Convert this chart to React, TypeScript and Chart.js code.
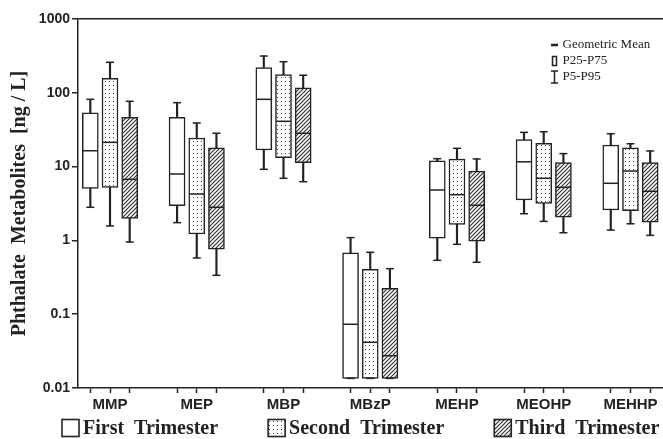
import React, { useEffect, useRef } from 'react';
import { Chart, registerables } from 'chart.js';

Chart.register(...registerables);

const categories = ['MMP', 'MEP', 'MBP', 'MBzP', 'MEHP', 'MEOHP', 'MEHHP'];
const seriesLabels = ['First  Trimester', 'Second  Trimester', 'Third  Trimester'];

// rows: first, second, third trimester; columns follow categories
const p5 = [
  [2.81, 1.74, 9.19, 0.0135, 0.537, 2.30, 1.38],
  [1.57, 0.578, 6.94, 0.0135, 0.885, 1.81, 1.68],
  [0.95, 0.336, 6.24, 0.0135, 0.505, 1.27, 1.17],
];
const p25 = [
  [5.08, 2.95, 16.8, 0.0135, 1.07, 3.53, 2.58],
  [5.24, 1.22, 13.2, 0.0135, 1.65, 3.18, 2.53],
  [1.99, 0.758, 11.3, 0.0135, 0.98, 2.07, 1.76],
];
const geoMean = [
  [16.4, 7.94, 81.6, 0.073, 4.82, 11.6, 5.94],
  [21.3, 4.25, 41.1, 0.0416, 4.16, 6.94, 8.71],
  [6.73, 2.81, 28.3, 0.0274, 2.99, 5.24, 4.63],
];
const p75 = [
  [53.7, 46.6, 219, 0.681, 12.0, 23.2, 19.6],
  [157, 24.4, 176, 0.406, 12.6, 20.7, 18.0],
  [46.6, 18.0, 117, 0.224, 8.71, 11.3, 11.3],
];
const p95 = [
  [81.6, 73.5, 315, 1.09, 12.8, 29.1, 27.9],
  [259, 39.0, 264, 0.690, 17.7, 29.7, 20.4],
  [76.7, 28.3, 173, 0.414, 12.7, 15.0, 16.3],
];

const yTickValues = [0.01, 0.1, 1, 10, 100, 1000];
const yTickLabels = ['0.01', '0.1', '1', '10', '100', '1000'];
const yAxisTitle = 'Phthalate  Metabolites  [ng / L]';
const innerLegendLabels = ['Geometric Mean', 'P25-P75', 'P5-P95'];

const INK = '#222';
const SERIF = '"Liberation Serif", "Times New Roman", serif';
const SANS = '"Liberation Sans", Arial, sans-serif';
const OFFSETS = [-0.227, 0, 0.227];

function makeDots(): CanvasPattern | string {
  const c = document.createElement('canvas');
  c.width = 4; c.height = 4;
  const g = c.getContext('2d');
  if (!g) return '#fff';
  g.fillStyle = '#fff'; g.fillRect(0, 0, 4, 4);
  g.fillStyle = '#444'; g.fillRect(1, 1, 1, 1);
  return g.createPattern(c, 'repeat') || '#fff';
}

function makeHatch(): CanvasPattern | string {
  const c = document.createElement('canvas');
  c.width = 4; c.height = 4;
  const g = c.getContext('2d');
  if (!g) return '#888';
  g.fillStyle = '#fff'; g.fillRect(0, 0, 4, 4);
  g.strokeStyle = '#333'; g.lineWidth = 1.2;
  g.beginPath();
  g.moveTo(0, 4); g.lineTo(4, 0);
  g.moveTo(-1, 1); g.lineTo(1, -1);
  g.moveTo(3, 5); g.lineTo(5, 3);
  g.stroke();
  return g.createPattern(c, 'repeat') || '#888';
}

const legendPlugin = {
  id: 'customLegends',
  afterDraw(chart: any) {
    const ctx = chart.ctx as CanvasRenderingContext2D;
    const area = chart.chartArea;
    ctx.save();
    // inner legend (top right)
    ctx.fillStyle = INK; ctx.strokeStyle = INK; ctx.lineWidth = 1.5;
    const lx = area.right - 112;
    const rows = [area.top + 26, area.top + 42, area.top + 58];
    ctx.fillRect(lx, rows[0] - 1.25, 7, 2.5);
    ctx.strokeRect(lx + 1.5, rows[1] - 4.5, 4, 9);
    ctx.beginPath();
    ctx.moveTo(lx + 3.5, rows[2] - 6); ctx.lineTo(lx + 3.5, rows[2] + 6);
    ctx.moveTo(lx, rows[2] - 6); ctx.lineTo(lx + 7, rows[2] - 6);
    ctx.moveTo(lx, rows[2] + 6); ctx.lineTo(lx + 7, rows[2] + 6);
    ctx.stroke();
    ctx.font = `13px ${SERIF}`;
    ctx.textBaseline = 'middle';
    ctx.textAlign = 'left';
    innerLegendLabels.forEach((t, k) => ctx.fillText(t, lx + 11.5, rows[k]));

    // bottom legend
    ctx.font = `bold 20px ${SERIF}`;
    const boxes = chart.data.datasets.filter((d: any) => d.isBox);
    const size = 17;
    const yc = 428;
    let x = 62;
    boxes.forEach((ds: any) => {
      ctx.fillStyle = ds.backgroundColor;
      ctx.fillRect(x, yc - size / 2, size, size);
      ctx.lineWidth = 1.6; ctx.strokeStyle = INK;
      ctx.strokeRect(x, yc - size / 2, size, size);
      ctx.fillStyle = INK;
      ctx.fillText(ds.label, x + size + 4, yc + 1);
      x += size + 4 + ctx.measureText(ds.label).width + 50;
    });
    ctx.restore();
  },
};

export default function App() {
  const ref = useRef<HTMLCanvasElement>(null);

  useEffect(() => {
    if (!ref.current) return;
    const fills = ['#fff', makeDots(), makeHatch()];
    const datasets: any[] = [];
    for (let s = 0; s < 3; s++) {
      const xs = categories.map((_, i) => i + OFFSETS[s]);
      datasets.push({
        type: 'bar', label: seriesLabels[s], isBox: true,
        data: xs.map((x, i) => ({ x, y: [p25[s][i], p75[s][i]] })),
        backgroundColor: fills[s], borderColor: INK, borderWidth: 1.5, borderSkipped: false,
        grouped: false, barPercentage: 1, categoryPercentage: 1, maxBarThickness: 16, order: 1,
      });
      datasets.push({
        type: 'bar', label: 'whisker',
        data: xs.map((x, i) => ({ x, y: [p5[s][i], p95[s][i]] })),
        backgroundColor: INK, borderWidth: 0,
        grouped: false, barPercentage: 1, categoryPercentage: 1, maxBarThickness: 1.5, order: 2,
      });
      datasets.push({
        type: 'scatter', label: 'mean',
        data: xs.map((x, i) => ({ x, y: geoMean[s][i] })),
        pointStyle: 'line', radius: 7.5, borderColor: INK, borderWidth: 1.5, order: 0,
      });
      datasets.push({
        type: 'scatter', label: 'caps',
        data: xs.flatMap((x, i) => [{ x, y: p5[s][i] }, { x, y: p95[s][i] }]),
        pointStyle: 'line', radius: 4, borderColor: INK, borderWidth: 1.5, order: 0,
      });
    }

    const chart = new Chart(ref.current, {
      type: 'bar',
      data: { datasets },
      plugins: [legendPlugin],
      options: {
        responsive: false,
        animation: false,
        events: [],
        layout: { autoPadding: false, padding: { top: 19, left: 0, right: 0, bottom: 0 } },
        plugins: { legend: { display: false }, tooltip: { enabled: false } },
        scales: {
          x: {
            type: 'linear',
            min: -0.369,
            max: 6.375,
            offset: false,
            afterFit: (scale: any) => {
              scale.height = 51;
              scale.paddingLeft = 0;
              scale.paddingRight = 0;
            },
            afterBuildTicks: (scale: any) => {
              scale.ticks = categories.flatMap((_, i) => OFFSETS.map((o) => ({ value: i + o })));
            },
            grid: {
              drawOnChartArea: false, drawTicks: true, tickLength: 5,
              color: INK, tickColor: INK, tickWidth: 1.5, offset: false,
            },
            border: { color: INK, width: 1.5 },
            ticks: {
              autoSkip: false, maxRotation: 0, minRotation: 0, padding: 3,
              color: INK, font: { family: SANS, size: 15, weight: 'bold' },
              callback: (_v: any, i: number) => (i % 3 === 1 ? categories[(i - 1) / 3] : ''),
            },
          },
          y: {
            type: 'logarithmic',
            min: 0.01,
            max: 1000,
            afterFit: (scale: any) => { scale.width = 78; },
            afterBuildTicks: (scale: any) => {
              scale.ticks = yTickValues.map((v) => ({ value: v }));
            },
            grid: {
              color: (c: any) => (c.tick && c.tick.value === 1000 ? INK : 'transparent'),
              tickColor: INK, tickLength: 6, lineWidth: 1.5, tickWidth: 1.5,
            },
            border: { color: INK, width: 1.5 },
            ticks: {
              padding: 2, color: INK, font: { family: SANS, size: 14, weight: 'bold' },
              callback: (v: any) => yTickLabels[yTickValues.indexOf(Number(v))] ?? '',
            },
            title: {
              display: true, text: yAxisTitle, color: INK,
              font: { family: SERIF, size: 20, weight: 'bold' },
              padding: { top: 8, bottom: 0 },
            },
          },
        },
      } as any,
    });
    return () => chart.destroy();
  }, []);

  return (
    <div style={{ position: 'fixed', left: 0, top: 0, width: 663, height: 439, background: '#fff' }}>
      <canvas ref={ref} width={663} height={439} style={{ display: 'block' }} />
    </div>
  );
}
